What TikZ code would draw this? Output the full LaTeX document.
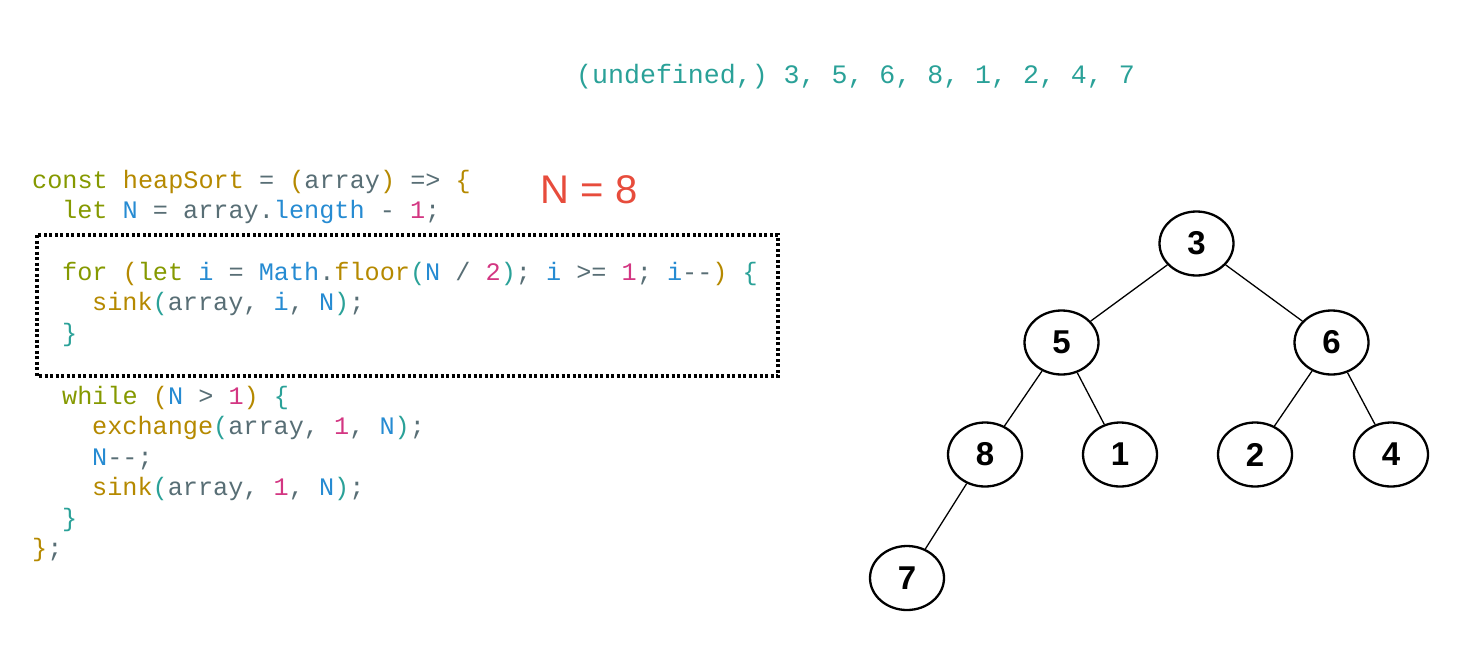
\documentclass[tikz,border=0pt]{standalone}
\usepackage{fontspec}
\usepackage{xcolor}
\usetikzlibrary{shapes.geometric}
\newfontfamily\codefont{Liberation Mono}
\newfontfamily\labelfont{Liberation Sans}
\definecolor{kwgreen}{HTML}{859900}
\definecolor{fnyellow}{HTML}{B58900}
\definecolor{txtgray}{HTML}{586E75}
\definecolor{varblue}{HTML}{268BD2}
\definecolor{nummag}{HTML}{D33682}
\definecolor{brcyan}{HTML}{2AA198}
\definecolor{nred}{HTML}{E74C3C}
\newcommand{\cKw}[1]{\textcolor{kwgreen}{#1}}
\newcommand{\cFn}[1]{\textcolor{fnyellow}{#1}}
\newcommand{\cTx}[1]{\textcolor{txtgray}{#1}}
\newcommand{\cVr}[1]{\textcolor{varblue}{#1}}
\newcommand{\cNm}[1]{\textcolor{nummag}{#1}}
\newcommand{\cBr}[1]{\textcolor{brcyan}{#1}}
\begin{document}
\begin{tikzpicture}[x=1pt,y=-1pt,
        codeline/.style={anchor=base west,inner sep=0pt,font=\codefont\fontsize{25.2}{30}\selectfont},
        heapnode/.style={ellipse,draw,line width=2.3pt,minimum width=74pt,minimum height=64pt,
            inner sep=0pt,font=\labelfont\bfseries\fontsize{33}{33}\selectfont},
        heapedge/.style={line width=1.3pt},
        loopbox/.style={line width=3.2pt,dash pattern=on 3pt off 2.5pt}
        ]
        \useasboundingbox (0,0) rectangle (1469,646);
        % Array contents
        \node[codeline,font=\codefont\fontsize{26.6}{30}\selectfont,text=brcyan] (arr) at (576,83)
            {(undefined,) 3, 5, 6, 8, 1, 2, 4, 7};
        \node[anchor=base,inner sep=0pt,text=nred,font=\labelfont\fontsize{40}{40}\selectfont] (nval) at (589,203)
            {N = 8};
        % Code of heapSort
        \node[codeline] (l1) at (32,188) {\cKw{const} \cFn{heapSort} \cTx{=} \cFn{(}\cTx{array}\cFn{)} \cTx{=>} \cFn{\{}};
        \node[codeline] (l2) at (62,218.5) {\cKw{let} \cVr{N} \cTx{= array.}\cVr{length} \cTx{-} \cNm{1}\cTx{;}};
        \node[codeline] (l3) at (62,280) {\cKw{for} \cFn{(}\cKw{let} \cVr{i} \cTx{=} \cVr{Math}\cTx{.}\cFn{floor}\cBr{(}\cVr{N} \cTx{/} \cNm{2}\cBr{)}\cTx{;} \cVr{i} \cTx{>=} \cNm{1}\cTx{;} \cVr{i}\cTx{-{}-}\cFn{)} \cBr{\{}};
        \node[codeline] (l4) at (92,310.5) {\cFn{sink}\cBr{(}\cTx{array,} \cVr{i}\cTx{,} \cVr{N}\cBr{)}\cTx{;}};
        \node[codeline] (l5) at (62,341) {\cBr{\}}};
        \node[codeline] (l6) at (62,404) {\cKw{while} \cFn{(}\cVr{N} \cTx{>} \cNm{1}\cFn{)} \cBr{\{}};
        \node[codeline] (l7) at (92,434.5) {\cFn{exchange}\cBr{(}\cTx{array,} \cNm{1}\cTx{,} \cVr{N}\cBr{)}\cTx{;}};
        \node[codeline] (l8) at (92,465) {\cVr{N}\cTx{-{}-;}};
        \node[codeline] (l9) at (92,495.5) {\cFn{sink}\cBr{(}\cTx{array,} \cNm{1}\cTx{,} \cVr{N}\cBr{)}\cTx{;}};
        \node[codeline] (l10) at (62,526) {\cBr{\}}};
        \node[codeline] (l11) at (32,556.5) {\cFn{\}}\cTx{;}};
        %% Dotted frame round the for loop
        \draw[loopbox] (37,235) rectangle (778,376);
        % Heap as a tree
        \node[heapnode] (n3) at (1196.5,243.5) {3};
        \node[heapnode] (n5) at (1061.5,342.5) {5};
        \node[heapnode] (n6) at (1331.5,342.5) {6};
        \node[heapnode] (n8) at (985,454.5) {8};
        \node[heapnode] (n1) at (1120,454.5) {1};
        \node[heapnode] (n2) at (1255,454.5) {2};
        \node[heapnode] (n4) at (1391,454.5) {4};
        \node[heapnode] (n7) at (907,578) {7};
        \draw[heapedge] (n3) -- (n5);
        \draw[heapedge] (n3) -- (n6);
        \draw[heapedge] (n5) -- (n8);
        \draw[heapedge] (n5) -- (n1);
        \draw[heapedge] (n6) -- (n2);
        \draw[heapedge] (n6) -- (n4);
        \draw[heapedge] (n8) -- (n7);
    \end{tikzpicture}
\end{document}
